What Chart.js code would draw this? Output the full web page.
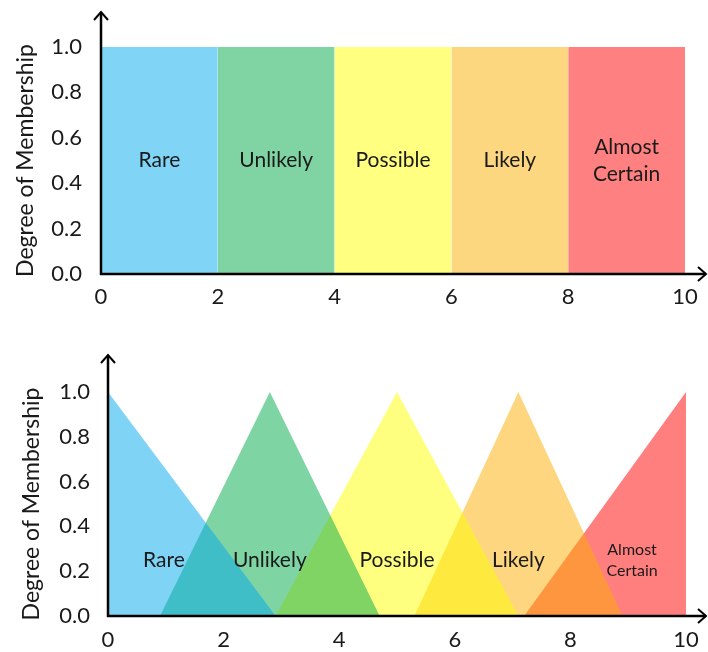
<!DOCTYPE html>
<html><head><meta charset="utf-8">
<script src="https://cdn.jsdelivr.net/npm/chart.js@4/dist/chart.umd.min.js"></script>
<style>
html,body{margin:0;padding:0;background:#fff;}
#wrap{position:relative;width:708px;height:652px;overflow:hidden;}
.box{position:absolute;left:0;width:708px;height:326px;}
#top{top:0;}
#bot{top:326px;}
</style></head><body>
<div id="wrap">
<div class="box" id="top"><canvas id="c1" width="708" height="326"></canvas></div>
<div class="box" id="bot"><canvas id="c2" width="708" height="326"></canvas></div>
</div>
<script>
// ---- data ----
const categories = ["Rare", "Unlikely", "Possible", "Likely", "Almost Certain"];
const crispBounds = [0, 2, 4, 6, 8, 10];            // crisp set boundaries
const fuzzyLeft  = [0, 0.9, 2.9, 5.3, 7.2];         // triangle foot (left)
const fuzzyPeak  = [0, 2.8, 5.0, 7.1, 10];          // membership = 1
const fuzzyRight = [2.9, 4.7, 7.1, 8.9, 10];        // triangle foot (right)
const xTicks = [0, 2, 4, 6, 8, 10];
const yTicks = [0, 0.2, 0.4, 0.6, 0.8, 1.0];
const yTitle = "Degree of Membership";

// ---- styles ----
const solidColors = ['#80d4f6', '#80d4a4', '#ffff80', '#fdd680', '#ff8080'];
const alphaColors = ['rgba(0,170,237,0.5)', 'rgba(0,170,73,0.5)', 'rgba(255,255,0,0.5)', 'rgba(251,173,0,0.5)', 'rgba(255,0,0,0.5)'];
const FONT = 'Lato, Calibri, "Open Sans", sans-serif';

const crispSets = categories.map((c, i) => ({
  label: c,
  data: [
    {x: crispBounds[i], y: 0}, {x: crispBounds[i], y: 1},
    {x: crispBounds[i + 1], y: 1}, {x: crispBounds[i + 1], y: 0}
  ],
  backgroundColor: solidColors[i]
}));
const fuzzySets = categories.map((c, i) => ({
  label: c,
  data: [
    {x: fuzzyLeft[i], y: 0}, {x: fuzzyPeak[i], y: 1}, {x: fuzzyRight[i], y: 0}
  ],
  backgroundColor: alphaColors[i]
}));

const axesPlugin = {
  id: 'arrowAxes',
  afterDraw(chart, args, o) {
    const ctx = chart.ctx, a = chart.chartArea;
    ctx.save();
    ctx.strokeStyle = '#000';
    ctx.lineWidth = 2.5;
    ctx.lineCap = 'butt';
    ctx.beginPath();
    ctx.moveTo(a.left, a.bottom + 1);
    ctx.lineTo(a.left, a.top - o.up);
    ctx.moveTo(a.left - 1, a.bottom);
    ctx.lineTo(chart.width - 2, a.bottom);
    ctx.stroke();
    ctx.lineWidth = 2;
    ctx.beginPath();
    const h = 7;
    ctx.moveTo(a.left - h, a.top - o.up + h + 1);
    ctx.lineTo(a.left, a.top - o.up);
    ctx.lineTo(a.left + h, a.top - o.up + h + 1);
    const tx = chart.width - 2;
    ctx.moveTo(tx - h - 1, a.bottom - h);
    ctx.lineTo(tx, a.bottom);
    ctx.lineTo(tx - h - 1, a.bottom + h);
    ctx.stroke();
    ctx.restore();
  }
};

const labelsPlugin = {
  id: 'setLabels',
  afterDatasetsDraw(chart, args, o) {
    const ctx = chart.ctx, xs = chart.scales.x, ys = chart.scales.y;
    ctx.save();
    ctx.fillStyle = '#1a1a1a';
    ctx.textAlign = 'center';
    ctx.textBaseline = 'middle';
    o.items.forEach(it => {
      const lines = it.text.split(' ');
      const fs = lines.length > 1 ? o.multiSize : o.size;
      const lh = lines.length > 1 ? o.multiLine : 0;
      ctx.font = fs + 'px ' + FONT;
      const px = xs.getPixelForValue(it.x);
      const py = ys.getPixelForValue(it.y);
      lines.forEach((ln, k) => {
        ctx.fillText(ln, px, py + (k - (lines.length - 1) / 2) * lh);
      });
    });
    ctx.restore();
  }
};

function makeChart(id, datasets, lay) {
  return new Chart(document.getElementById(id), {
    type: 'line',
    data: {
      datasets: datasets.map(d => Object.assign({
        showLine: true, fill: 'origin', borderWidth: 0, borderColor: 'rgba(0,0,0,0)',
        pointRadius: 0, pointHoverRadius: 0, tension: 0
      }, d))
    },
    options: {
      responsive: false,
      animation: false,
      events: [],
      layout: { padding: { left: 0, top: lay.top, right: lay.right, bottom: 0 } },
      plugins: {
        legend: { display: false },
        tooltip: { enabled: false },
        arrowAxes: { up: lay.up },
        setLabels: lay.labels
      },
      scales: {
        x: {
          type: 'linear', min: 0, max: 10,
          grid: { display: false }, border: { display: false },
          afterBuildTicks: s => { s.ticks = xTicks.map(v => ({ value: v })); },
          afterFit: s => { s.height = lay.xh; },
          ticks: { font: { family: FONT, size: 22 }, color: '#1a1a1a', padding: lay.xpad, maxRotation: 0, autoSkip: false,
                   callback: v => String(v) }
        },
        y: {
          type: 'linear', min: 0, max: 1,
          grid: { display: false }, border: { display: false },
          afterBuildTicks: s => { s.ticks = yTicks.map(v => ({ value: v })); },
          afterFit: s => { s.width = lay.yw; },
          ticks: { font: { family: FONT, size: 22 }, color: '#1a1a1a', padding: lay.ypad,
                   callback: v => Number(v).toFixed(1) },
          title: { display: true, text: yTitle, font: { family: FONT, size: 23 }, color: '#1a1a1a',
                   padding: { top: lay.tpad, bottom: 0 } }
        }
      }
    },
    plugins: [axesPlugin, labelsPlugin]
  });
}

makeChart('c1', crispSets, {
  top: 47, right: 23, up: 35, xh: 52, yw: 101, xpad: 2, ypad: 11, tpad: 12,
  labels: {
    size: 21, multiSize: 21, multiLine: 27,
    items: categories.map((c, i) => ({ text: c, x: (crispBounds[i] + crispBounds[i + 1]) / 2, y: 0.5 }))
  }
});

makeChart('c2', fuzzySets, {
  top: 66, right: 22, up: 37, xh: 36, yw: 108, xpad: 3, ypad: 10, tpad: 18,
  labels: {
    size: 21, multiSize: 16, multiLine: 21,
    items: categories.map((c, i) => ({ text: c, x: (fuzzyLeft[i] + fuzzyPeak[i] + fuzzyRight[i]) / 3, y: 0.25 }))
  }
});
</script>
</body></html>
